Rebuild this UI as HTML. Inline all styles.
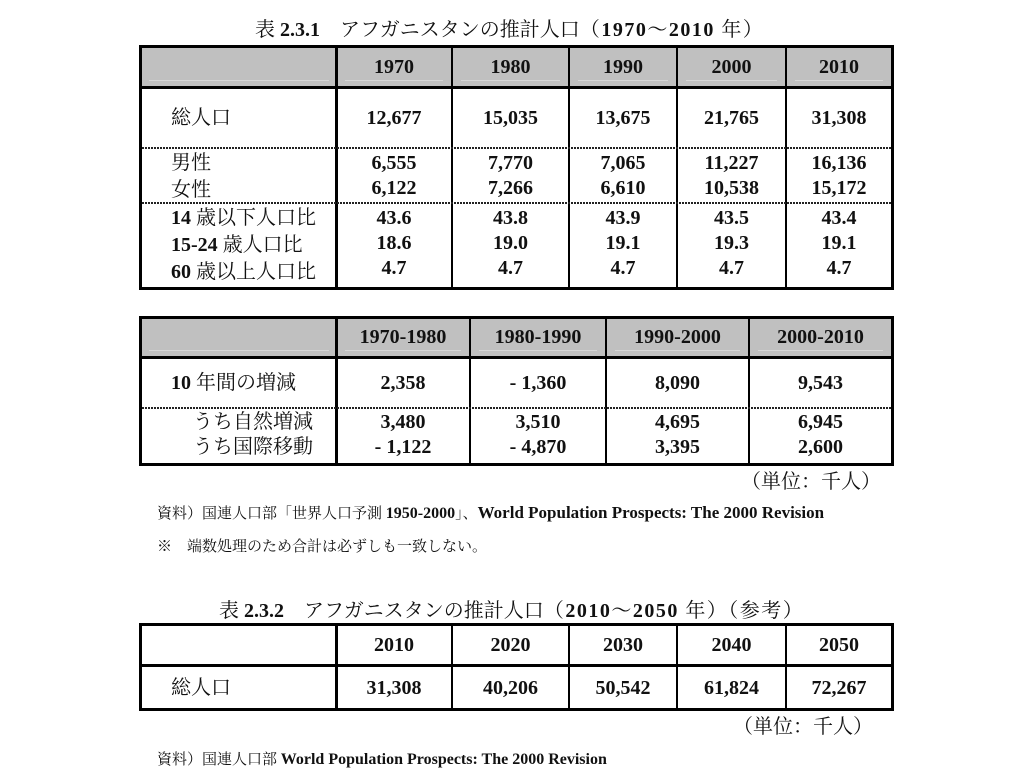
<!DOCTYPE html>
<html><head><meta charset="utf-8">
<style>
html,body{margin:0;padding:0;background:#fff}
body{width:1023px;height:782px;position:relative;overflow:hidden;font-family:"Liberation Serif","Noto Serif CJK SC",serif;color:#111}
.t{position:absolute;height:24px;line-height:24px;font-size:20px;white-space:nowrap}
.s{position:absolute;height:20px;line-height:20px;font-size:15px;white-space:nowrap}
.c{text-align:center}
b{font-weight:bold}
.n{font-weight:bold}
.v{position:absolute;background:#000}
.g{position:absolute;background:#c0c0c0}
.f{position:absolute;height:1px;background:#d6d6d6}
.d{position:absolute;height:2px;background:repeating-linear-gradient(90deg,#222 0 2px,transparent 2px 3px)}
.box{position:absolute;border:3px solid #000;box-sizing:border-box}
.ls{letter-spacing:1.5px}
</style></head><body>

<!-- ===== Table 2.3.1 ===== -->
<div class="t" style="left:255px;top:18px">表 <b>2.3.1</b>　アフガニスタンの推計人口<span class="ls">（<b>1970</b>〜<b>2010</b> 年）</span></div>

<div class="g" style="left:142px;top:47px;width:749px;height:39px"></div>
<div class="f" style="left:149px;top:80px;width:180px"></div>
<div class="f" style="left:345px;top:80px;width:98px"></div>
<div class="f" style="left:461px;top:80px;width:99px"></div>
<div class="f" style="left:578px;top:80px;width:90px"></div>
<div class="f" style="left:686px;top:80px;width:91px"></div>
<div class="f" style="left:795px;top:80px;width:88px"></div>
<div class="box" style="left:139px;top:45px;width:755px;height:245px"></div>
<div class="v" style="left:142px;top:86px;width:749px;height:3px"></div>
<div class="v" style="left:335px;top:45px;width:3px;height:245px"></div>
<div class="v" style="left:451px;top:45px;width:2px;height:245px"></div>
<div class="v" style="left:568px;top:45px;width:2px;height:245px"></div>
<div class="v" style="left:676px;top:45px;width:2px;height:245px"></div>
<div class="v" style="left:785px;top:45px;width:2px;height:245px"></div>
<div class="d" style="left:142px;top:147px;width:749px"></div>
<div class="d" style="left:142px;top:202px;width:749px"></div>

<!-- header -->
<div class="t c n" style="left:337px;width:114px;top:55px">1970</div>
<div class="t c n" style="left:453px;width:115px;top:55px">1980</div>
<div class="t c n" style="left:570px;width:106px;top:55px">1990</div>
<div class="t c n" style="left:678px;width:107px;top:55px">2000</div>
<div class="t c n" style="left:787px;width:104px;top:55px">2010</div>
<!-- labels -->
<div class="t" style="left:171px;top:106px">総人口</div>
<div class="t" style="left:171px;top:151px">男性</div>
<div class="t" style="left:171px;top:178px">女性</div>
<div class="t" style="left:171px;top:206px"><b>14</b> 歳以下人口比</div>
<div class="t" style="left:171px;top:233px"><b>15-24</b> 歳人口比</div>
<div class="t" style="left:171px;top:260px"><b>60</b> 歳以上人口比</div>
<!-- values col1 -->
<div class="t c n" style="left:337px;width:114px;top:106px">12,677</div>
<div class="t c n" style="left:337px;width:114px;top:151px">6,555</div>
<div class="t c n" style="left:337px;width:114px;top:176px">6,122</div>
<div class="t c n" style="left:337px;width:114px;top:206px">43.6</div>
<div class="t c n" style="left:337px;width:114px;top:231px">18.6</div>
<div class="t c n" style="left:337px;width:114px;top:256px">4.7</div>
<!-- col2 -->
<div class="t c n" style="left:453px;width:115px;top:106px">15,035</div>
<div class="t c n" style="left:453px;width:115px;top:151px">7,770</div>
<div class="t c n" style="left:453px;width:115px;top:176px">7,266</div>
<div class="t c n" style="left:453px;width:115px;top:206px">43.8</div>
<div class="t c n" style="left:453px;width:115px;top:231px">19.0</div>
<div class="t c n" style="left:453px;width:115px;top:256px">4.7</div>
<!-- col3 -->
<div class="t c n" style="left:570px;width:106px;top:106px">13,675</div>
<div class="t c n" style="left:570px;width:106px;top:151px">7,065</div>
<div class="t c n" style="left:570px;width:106px;top:176px">6,610</div>
<div class="t c n" style="left:570px;width:106px;top:206px">43.9</div>
<div class="t c n" style="left:570px;width:106px;top:231px">19.1</div>
<div class="t c n" style="left:570px;width:106px;top:256px">4.7</div>
<!-- col4 -->
<div class="t c n" style="left:678px;width:107px;top:106px">21,765</div>
<div class="t c n" style="left:678px;width:107px;top:151px">11,227</div>
<div class="t c n" style="left:678px;width:107px;top:176px">10,538</div>
<div class="t c n" style="left:678px;width:107px;top:206px">43.5</div>
<div class="t c n" style="left:678px;width:107px;top:231px">19.3</div>
<div class="t c n" style="left:678px;width:107px;top:256px">4.7</div>
<!-- col5 -->
<div class="t c n" style="left:787px;width:104px;top:106px">31,308</div>
<div class="t c n" style="left:787px;width:104px;top:151px">16,136</div>
<div class="t c n" style="left:787px;width:104px;top:176px">15,172</div>
<div class="t c n" style="left:787px;width:104px;top:206px">43.4</div>
<div class="t c n" style="left:787px;width:104px;top:231px">19.1</div>
<div class="t c n" style="left:787px;width:104px;top:256px">4.7</div>

<!-- ===== Table 2 (changes) ===== -->
<div class="g" style="left:142px;top:318px;width:749px;height:38px"></div>
<div class="f" style="left:149px;top:350px;width:180px"></div>
<div class="f" style="left:345px;top:350px;width:116px"></div>
<div class="f" style="left:479px;top:350px;width:118px"></div>
<div class="f" style="left:615px;top:350px;width:125px"></div>
<div class="f" style="left:758px;top:350px;width:125px"></div>
<div class="box" style="left:139px;top:316px;width:755px;height:150px"></div>
<div class="v" style="left:142px;top:356px;width:749px;height:3px"></div>
<div class="v" style="left:335px;top:316px;width:3px;height:150px"></div>
<div class="v" style="left:469px;top:316px;width:2px;height:150px"></div>
<div class="v" style="left:605px;top:316px;width:2px;height:150px"></div>
<div class="v" style="left:748px;top:316px;width:2px;height:150px"></div>
<div class="d" style="left:142px;top:407px;width:749px"></div>

<div class="t c n" style="left:337px;width:132px;top:325px">1970-1980</div>
<div class="t c n" style="left:471px;width:134px;top:325px">1980-1990</div>
<div class="t c n" style="left:607px;width:141px;top:325px">1990-2000</div>
<div class="t c n" style="left:750px;width:141px;top:325px">2000-2010</div>

<div class="t" style="left:171px;top:371px"><b>10</b> 年間の増減</div>
<div class="t" style="left:193px;top:410px">うち自然増減</div>
<div class="t" style="left:193px;top:435px">うち国際移動</div>

<div class="t c n" style="left:337px;width:132px;top:371px">2,358</div>
<div class="t c n" style="left:337px;width:132px;top:410px">3,480</div>
<div class="t c n" style="left:337px;width:132px;top:435px">- 1,122</div>
<div class="t c n" style="left:471px;width:134px;top:371px">- 1,360</div>
<div class="t c n" style="left:471px;width:134px;top:410px">3,510</div>
<div class="t c n" style="left:471px;width:134px;top:435px">- 4,870</div>
<div class="t c n" style="left:607px;width:141px;top:371px">8,090</div>
<div class="t c n" style="left:607px;width:141px;top:410px">4,695</div>
<div class="t c n" style="left:607px;width:141px;top:435px">3,395</div>
<div class="t c n" style="left:750px;width:141px;top:371px">9,543</div>
<div class="t c n" style="left:750px;width:141px;top:410px">6,945</div>
<div class="t c n" style="left:750px;width:141px;top:435px">2,600</div>

<div class="t" style="left:741px;top:470px">（単位：千人）</div>

<div class="s" style="left:157px;top:503px">資料）国連人口部「世界人口予測 <b style="font-size:16px">1950-2000</b>」、<b style="font-size:17px">World Population Prospects: The 2000 Revision</b></div>
<div class="s" style="left:157px;top:537px">※　端数処理のため合計は必ずしも一致しない。</div>

<!-- ===== Table 2.3.2 ===== -->
<div class="t" style="left:219px;top:599px">表 <b>2.3.2</b>　アフガニスタンの推計人口<span class="ls">（<b>2010</b>〜<b>2050</b> 年）（参考）</span></div>

<div class="box" style="left:139px;top:623px;width:755px;height:88px"></div>
<div class="v" style="left:142px;top:664px;width:749px;height:3px"></div>
<div class="v" style="left:335px;top:623px;width:3px;height:88px"></div>
<div class="v" style="left:451px;top:623px;width:2px;height:88px"></div>
<div class="v" style="left:568px;top:623px;width:2px;height:88px"></div>
<div class="v" style="left:676px;top:623px;width:2px;height:88px"></div>
<div class="v" style="left:785px;top:623px;width:2px;height:88px"></div>

<div class="t c n" style="left:337px;width:114px;top:633px">2010</div>
<div class="t c n" style="left:453px;width:115px;top:633px">2020</div>
<div class="t c n" style="left:570px;width:106px;top:633px">2030</div>
<div class="t c n" style="left:678px;width:107px;top:633px">2040</div>
<div class="t c n" style="left:787px;width:104px;top:633px">2050</div>

<div class="t" style="left:171px;top:676px">総人口</div>
<div class="t c n" style="left:337px;width:114px;top:676px">31,308</div>
<div class="t c n" style="left:453px;width:115px;top:676px">40,206</div>
<div class="t c n" style="left:570px;width:106px;top:676px">50,542</div>
<div class="t c n" style="left:678px;width:107px;top:676px">61,824</div>
<div class="t c n" style="left:787px;width:104px;top:676px">72,267</div>

<div class="t" style="left:733px;top:715px">（単位：千人）</div>

<div class="s" style="left:157px;top:750px">資料）国連人口部 <b style="font-size:16px">World Population Prospects: The 2000 Revision</b></div>

</body></html>
